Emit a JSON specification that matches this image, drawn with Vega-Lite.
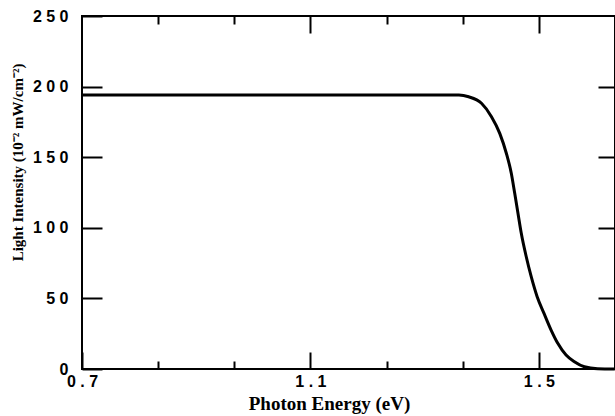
{
  "$schema": "https://vega.github.io/schema/vega-lite/v6.json",
  "width": 533,
  "height": 353,
  "autosize": {"type": "none"},
  "padding": {"left": 82, "top": 16, "right": 0, "bottom": 47},
  "background": "white",
  "config": {
    "view": {"stroke": "black", "strokeWidth": 2},
    "axis": {"domain": false, "grid": false, "tickColor": "black", "tickWidth": 2, "labelColor": "black", "titleColor": "black"}
  },
  "data": {"values": [
    {"e": 0.7, "i": 194},
    {"e": 1.0, "i": 194},
    {"e": 1.3, "i": 194},
    {"e": 1.36, "i": 194},
    {"e": 1.377, "i": 192.8},
    {"e": 1.3995, "i": 188.2},
    {"e": 1.417, "i": 178.7},
    {"e": 1.4315, "i": 166.9},
    {"e": 1.443, "i": 152.8},
    {"e": 1.4517, "i": 138.6},
    {"e": 1.4577, "i": 124.4},
    {"e": 1.4634, "i": 110.3},
    {"e": 1.4692, "i": 96.1},
    {"e": 1.4779, "i": 79.5},
    {"e": 1.4866, "i": 65.4},
    {"e": 1.497, "i": 51.2},
    {"e": 1.509, "i": 39.4},
    {"e": 1.5214, "i": 27.6},
    {"e": 1.5331, "i": 18.2},
    {"e": 1.5476, "i": 9.9},
    {"e": 1.5622, "i": 5.2},
    {"e": 1.5797, "i": 1.6},
    {"e": 1.6028, "i": 0.2},
    {"e": 1.633, "i": 0}
  ]},
  "layer": [
    {
      "mark": {"type": "line", "color": "black", "strokeWidth": 3, "interpolate": "monotone"},
      "encoding": {
        "x": {"field": "e", "type": "quantitative", "scale": {"domain": [0.7, 1.6333], "nice": false, "zero": false},
          "axis": {"orient": "bottom", "values": [0.7, 1.1, 1.5], "format": ".1f", "tickSize": -17,
            "labelPadding": 21, "labelFont": "Liberation Sans", "labelFontWeight": "bold", "labelFontSize": 16,
            "labelExpr": "join(split(datum.label,''),' ')", "labelFlush": false,
            "title": "Photon Energy (eV)", "titleFont": "Liberation Serif", "titleFontWeight": "bold", "titleFontSize": 19,
            "titleX": 247, "titleY": 34, "titleBaseline": "middle"}},
        "y": {"field": "i", "type": "quantitative", "scale": {"domain": [0, 250], "nice": false},
          "axis": {"orient": "left", "values": [0, 50, 100, 150, 200, 250], "tickSize": -20,
            "labelPadding": 34, "labelFont": "Liberation Sans", "labelFontWeight": "bold", "labelFontSize": 16,
            "labelExpr": "join(split(datum.label,''),' ')",
            "title": "Light Intensity (10⁻² mW/cm⁻²)", "titleFont": "Liberation Serif", "titleFontWeight": "bold", "titleFontSize": 15,
            "titleX": -65, "titleY": 146, "titleBaseline": "middle"}}
      }
    },
    {
      "mark": {"type": "line", "opacity": 0},
      "encoding": {
        "x": {"field": "e", "type": "quantitative", "axis": {"orient": "bottom", "values": [0.8333, 0.9667, 1.2333, 1.3667], "tickSize": -8, "labels": false, "title": null}},
        "y": {"field": "i", "type": "quantitative", "axis": {"orient": "right", "values": [50, 100, 150, 200], "tickSize": -17, "labels": false, "title": null}}
      }
    },
    {
      "mark": {"type": "line", "opacity": 0},
      "encoding": {
        "x": {"field": "e", "type": "quantitative", "axis": {"orient": "top", "values": [1.1, 1.5], "tickSize": -17, "labels": false, "title": null}}
      }
    },
    {
      "mark": {"type": "line", "opacity": 0},
      "encoding": {
        "x": {"field": "e", "type": "quantitative", "axis": {"orient": "top", "values": [0.8333, 0.9667, 1.2333, 1.3667], "tickSize": -8, "labels": false, "title": null}}
      }
    }
  ]
}
